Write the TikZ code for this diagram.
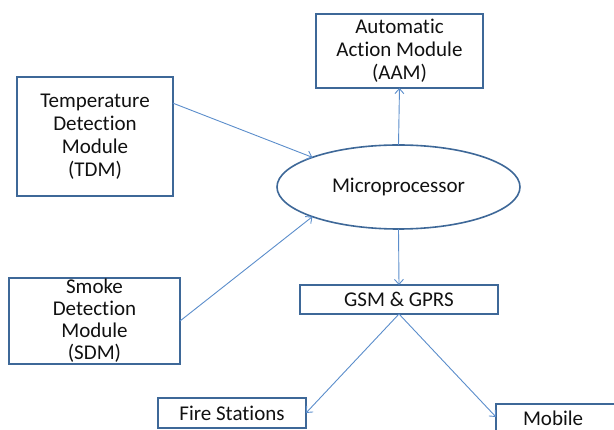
\documentclass[tikz,border=0pt]{standalone}
\usepackage{fontspec}
\setmainfont[Ligatures=NoCommon]{Carlito}
\usetikzlibrary{shapes.geometric,arrows.meta,calc}
\definecolor{boxblue}{HTML}{3E6898}
\definecolor{arrowblue}{HTML}{5B8DCB}
\definecolor{txt}{HTML}{111111}
\begin{document}
\begin{tikzpicture}[x=1pt,y=-1pt,
  every node/.style={text=txt, font=\fontsize{21}{23}\selectfont, align=center, inner sep=0pt, outer sep=0pt},
  box/.style={draw=boxblue, line width=1.6pt, rectangle},
  conn/.style={draw=arrowblue, line width=0.9pt, -{Straight Barb[length=5pt,width=9pt]}}]
\useasboundingbox (0,0) rectangle (614,430);
\node[box, minimum width=167pt, minimum height=74pt] (aam) at (399.5,51) {Automatic\\Action Module\\(AAM)};
\node[box, minimum width=156pt, minimum height=119pt] (tdm) at (95,136.5) {Temperature\\Detection\\Module\\(TDM)};
\node[box, minimum width=171pt, minimum height=86pt, font=\fontsize{21}{22}\selectfont] (sdm) at (94.5,321) {Smoke\\Detection\\Module\\(SDM)};
\node[draw=boxblue, line width=1.6pt, ellipse, minimum width=243pt, minimum height=84pt] (ell) at (398.5,187) {Microprocessor};
\node[box, minimum width=198pt, minimum height=29pt] (gsm) at (399,299.5) {GSM \& GPRS};
\node[box, minimum width=148pt, minimum height=30pt] (fire) at (232,413) {Fire Stations};
\node[box, anchor=north west, text width=102pt, inner xsep=27pt, align=left, text height=22pt, text depth=34pt] (mobile) at (496,404) {Mobile};
\draw[conn] ($(tdm.north east)!0.22!(tdm.south east)$) -- (ell.161);
\draw[conn] (sdm.east) -- (ell.199);
\draw[conn] (ell.north) -- (aam.south);
\draw[conn] (ell.south) -- (gsm.north);
\draw[conn] (gsm.south) -- (fire.east);
\draw[conn] (gsm.south) -- ($(mobile.north west)+(0,13)$);
\end{tikzpicture}
\end{document}
